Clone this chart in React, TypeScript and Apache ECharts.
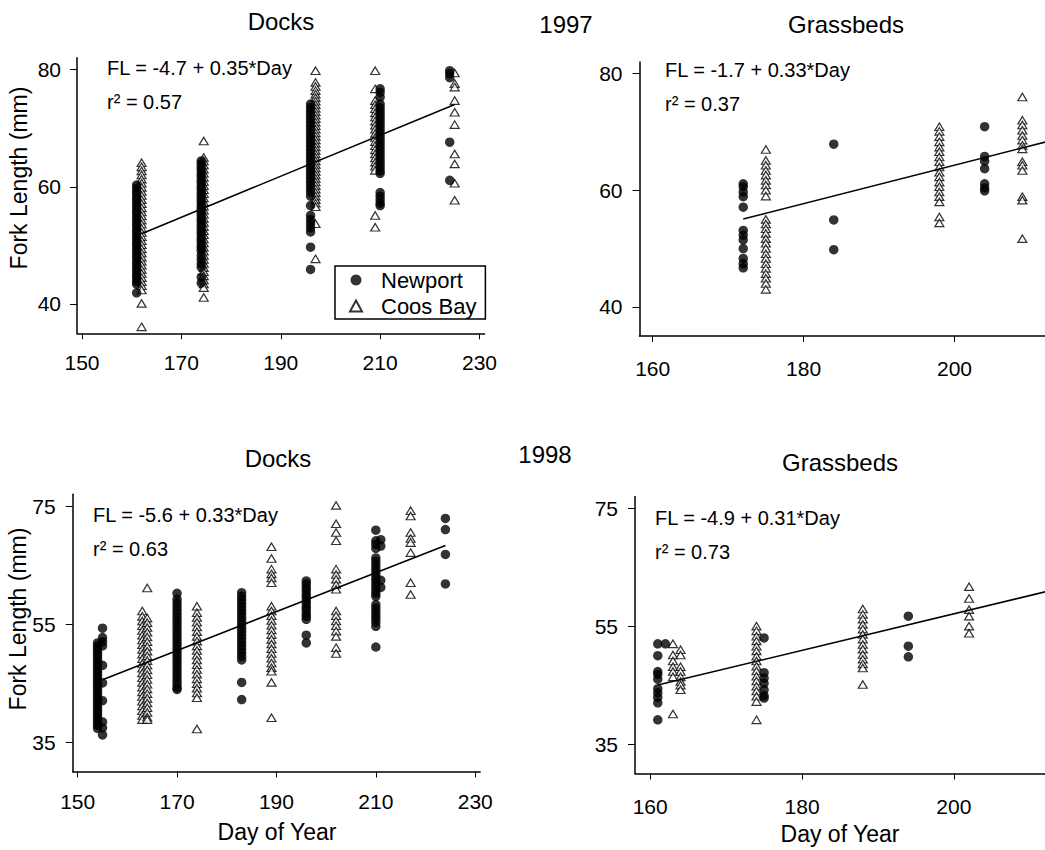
import React, { useEffect, useRef } from "react";
import * as echarts from "echarts";

// ---- Fork length (mm) by day of year, grouped as [day, lengths[]] ----

// 1997, Docks
const docks97Newport: [number, number[]][] = [
  [161, [60.3, 59.8, 59.2, 58.7, 58.1, 57.6, 57, 56.5, 55.9, 55.4, 54.8, 54.3, 53.7, 53.2, 52.6, 52.1, 51.5, 51, 50.4, 49.9, 49.3, 48.8, 48.2, 47.7, 47.1, 46.6, 46, 45.5, 44.9, 44.4, 43.8, 43.4, 41.9]],
  [174, [64.4, 63.9, 63.3, 62.8, 62.2, 61.7, 61.1, 60.6, 60, 59.5, 58.9, 58.4, 57.8, 57.3, 56.7, 56.2, 55.6, 55.1, 54.5, 54, 53.4, 52.9, 52.3, 51.8, 51.2, 50.7, 50.1, 49.6, 49.1, 48.3, 47.6, 46.9, 46.3, 44.6, 43.6]],
  [196, [74.1, 73.5, 72.9, 72.3, 71.7, 71.1, 70.5, 69.9, 69.3, 68.7, 68.1, 67.5, 66.9, 66.3, 65.7, 65.1, 64.5, 63.9, 63.3, 62.7, 62.1, 61.5, 60.9, 60.3, 59.7, 59.1, 58.4, 56.8, 55.1, 54.4, 53.7, 53, 52.3, 49.7, 45.9]],
  [210, [76.7, 76.1, 75.3, 74.1, 73.5, 72.9, 72.3, 71.7, 71.1, 70.5, 69.9, 69.3, 68.7, 68.1, 67.5, 66.9, 66.3, 65.7, 65.1, 64.5, 63.9, 63.3, 62.7, 62.3, 59, 58.4, 57.8, 57.2, 56.8]],
  [224, [79.8, 79.3, 78.6, 67.6, 61.1]],
];
const docks97CoosBay: [number, number[]][] = [
  [162, [64.1, 63.4, 62.7, 62, 61.3, 60.6, 59.9, 59.2, 58.5, 57.8, 57.1, 56.4, 55.7, 55, 54.3, 53.6, 52.9, 52.2, 51.5, 50.8, 50.1, 49.4, 48.7, 48, 47.3, 46.6, 45.9, 45.2, 44.5, 43.8, 43.1, 42.4, 40.1, 36.1]],
  [174.5, [67.8, 65, 64.4, 63.7, 63, 62.3, 61.6, 60.9, 60.2, 59.5, 58.8, 58.1, 57.4, 56.7, 56, 55.3, 54.6, 53.9, 53.2, 52.5, 51.8, 51.1, 50.4, 49.7, 49, 48.3, 47.6, 46.9, 46.2, 45.5, 44.8, 44.1, 43.4, 42.8, 41.1]],
  [197, [79.8, 77.8, 77.1, 76.4, 75.8, 75.2, 74.6, 74, 73.4, 72.8, 72.2, 71.6, 71, 70.4, 69.8, 69.2, 68.6, 68, 67.4, 66.8, 66.2, 65.6, 65, 64.4, 63.8, 63.2, 62.6, 62, 61.4, 60.8, 60.2, 59.6, 59, 58.4, 57.8, 57.2, 56.6, 53.7, 47.7]],
  [209, [79.8, 76.7, 74.7, 74, 73.3, 72.6, 71.9, 71.2, 70.5, 69.8, 69.1, 68.4, 67.7, 67, 66.3, 65.6, 64.9, 64.2, 63.5, 62.8, 55.1, 53.1]],
  [225, [79.4, 77.6, 77, 74.7, 72.7, 70.6, 65.6, 63.9, 60.6, 57.7]],
];

// 1997, Grassbeds
const grass97Newport: [number, number[]][] = [
  [172, [61.1, 60.6, 59.7, 58.9, 57.1, 53.1, 52.3, 51.5, 50, 48.3, 47.4, 46.7]],
  [184, [67.9, 54.9, 49.8]],
  [204, [70.9, 65.8, 65, 63.7, 61.1, 60.4, 59.9]],
];
const grass97CoosBay: [number, number[]][] = [
  [175, [67, 65.1, 64.3, 63.4, 62.6, 61.7, 60.9, 60, 59, 55, 54.2, 53.4, 52.6, 51.7, 50.9, 50, 49.1, 48.3, 47.4, 46.6, 45.7, 44.9, 44, 43]],
  [198, [70.9, 70.1, 69.2, 68.3, 67.4, 66.6, 65.7, 64.9, 64, 63.1, 62.3, 61.4, 60.6, 59.7, 58.9, 58, 55.4, 54.4]],
  [209, [76, 72, 71.2, 70.3, 69.4, 68.6, 67.7, 67.1, 64.9, 64.3, 63.4, 58.9, 58.3, 51.7]],
];

// 1998, Docks
const docks98Newport: [number, number[]][] = [
  [154, [51.8, 51.3, 50.8, 50.3, 49.8, 49.3, 48.8, 48.3, 47.8, 47.3, 46.8, 46.3, 45.8, 45.3, 44.8, 44.3, 43.8, 43.3, 42.8, 42.3, 41.8, 41.3, 40.8, 40.3, 39.8, 39.3, 38.8, 38.3, 37.8, 37.3]],
  [155, [54.3, 52.7, 52, 51.3, 48, 45, 42, 38.4, 37.4, 36.2]],
  [170, [60.2, 59.2, 58.6, 58, 57.4, 56.8, 56.2, 55.6, 55, 54.4, 53.8, 53.2, 52.6, 52, 51.4, 50.8, 50.2, 49.6, 49, 48.4, 47.8, 47.2, 46.6, 46, 45.4, 44.8, 44.2, 43.9]],
  [183, [60.3, 59.7, 59.1, 58.5, 57.9, 57.3, 56.7, 56.1, 55.5, 54.9, 54.3, 53.7, 53.1, 52.5, 51.9, 51.3, 50.7, 50.1, 49.5, 48.9, 45.1, 42.2]],
  [196, [62.3, 61.8, 61.2, 60.7, 60.1, 59.6, 59, 58.5, 57.9, 57.4, 56.8, 56.3, 55.8, 53.1, 51.8]],
  [210, [70.9, 69.1, 68.5, 67.8, 66.2, 65.6, 65, 64.4, 63.8, 63.2, 62.6, 62, 61.4, 60.8, 60.2, 59.7, 58.3, 57.7, 57.1, 56.5, 55.9, 55.3, 54.6, 51.1]],
  [211, [69.3, 68.2, 62.4, 61.2]],
  [224, [72.9, 71, 66.8, 61.8]],
];
const docks98CoosBay: [number, number[]][] = [
  [163, [57.2, 56.3, 55.5, 54.7, 53.9, 53.1, 52.3, 51.5, 50.7, 49.9, 49.1, 48.3, 47.5, 46.7, 45.9, 45.1, 44.3, 43.5, 42.7, 41.9, 41.1, 40.3, 39.5, 38.8]],
  [164, [61.1, 56, 55.2, 54.4, 53.6, 52.8, 52, 51.2, 50.4, 49.6, 48.8, 48, 47.2, 46.4, 45.6, 44.8, 44, 43.2, 42.4, 41.6, 40.8, 40, 39.2, 38.8]],
  [174, [58, 56.9, 56.1, 55.3, 54.5, 53.7, 52.9, 52.1, 51.3, 50.5, 49.7, 48.9, 48.1, 47.3, 46.5, 45.7, 44.9, 44.1, 43.3, 42.5, 37.2]],
  [189, [68.1, 66.1, 64.3, 63.5, 62.8, 62, 58, 57.2, 56.4, 55.6, 54.8, 54, 53.2, 52.4, 51.6, 50.8, 50, 49.2, 48.4, 47.6, 47, 45.1, 39.1]],
  [202, [75.1, 72, 70.5, 69.1, 64.3, 63.4, 62.6, 61.7, 60.9, 57.2, 56.4, 55.5, 54.7, 53.8, 52.9, 51, 50]],
  [217, [74.2, 73.3, 70.5, 69.5, 68.8, 67.1, 62, 60]],
];

// 1998, Grassbeds
const grass98Newport: [number, number[]][] = [
  [161, [52, 50, 47.3, 46.8, 46, 44.4, 43.7, 42.9, 42, 39.1]],
  [162, [52]],
  [175, [53, 47.1, 46.2, 45.3, 44.2, 43.2, 42.8]],
  [194, [56.7, 51.6, 49.8]],
];
const grass98CoosBay: [number, number[]][] = [
  [163, [52, 50.1, 49.1, 48.1, 47.3, 46.4, 40.1]],
  [164, [51, 50.1, 48.1, 47.3, 46.4, 45.6, 45, 44.2]],
  [174, [55, 54.2, 53.3, 52.5, 51.6, 50.8, 49.9, 49.1, 48.2, 47.4, 46.5, 45.7, 44.8, 44, 43.1, 42.2, 39.1]],
  [188, [57.9, 57, 56.2, 55.3, 54.5, 53.6, 52.8, 51.9, 51.1, 50.2, 49.4, 48.6, 47.9, 45.1]],
  [202, [61.7, 59.7, 57.8, 56.7, 55, 53.8]],
];

// Regression fits: FL = a + b*Day, with r² and the day span of the drawn line
const fitDocks97 = { a: -4.7, b: 0.35, r2: 0.57, from: 162, to: 225 };
const fitGrass97 = { a: -1.7, b: 0.33, r2: 0.37, from: 172, to: 214 };
const fitDocks98 = { a: -5.6, b: 0.33, r2: 0.63, from: 155, to: 224 };
const fitGrass98 = { a: -4.9, b: 0.31, r2: 0.73, from: 161, to: 214 };

// Axis ticks
const ticksXDocks = [150, 170, 190, 210, 230];
const ticksXGrass = [160, 180, 200];
const ticksY1997 = [40, 60, 80];
const ticksY1998 = [35, 55, 75];

const FONT = '"Liberation Sans", Arial, Helvetica, sans-serif';

type Panel = {
  newport: [number, number[]][];
  coos: [number, number[]][];
  fit: { a: number; b: number; r2: number; from: number; to: number };
  grid: { left: number; top: number; width: number; height: number };
  x: [number, number];
  y: [number, number];
  xTicks: number[];
  yTicks: number[];
  xLabelMargin: number;
  yLabelMargin: number;
  eq: [number, number];
};

const panels: Panel[] = [
  {
    newport: docks97Newport, coos: docks97CoosBay, fit: fitDocks97,
    grid: { left: 77, top: 57.8, width: 407.5, height: 275.5 },
    x: [149, 231], y: [35, 82], xTicks: ticksXDocks, yTicks: ticksY1997,
    xLabelMargin: 19, yLabelMargin: 16, eq: [107, 68],
  },
  {
    newport: grass97Newport, coos: grass97CoosBay, fit: fitGrass97,
    grid: { left: 639.5, top: 62, width: 423.3, height: 274 },
    x: [158.25, 212], y: [35, 82], xTicks: ticksXGrass, yTicks: ticksY1997,
    xLabelMargin: 22, yLabelMargin: 17, eq: [665, 70],
  },
  {
    newport: docks98Newport, coos: docks98CoosBay, fit: fitDocks98,
    grid: { left: 72.7, top: 494.2, width: 407.5, height: 277.3 },
    x: [149, 231], y: [30, 77], xTicks: ticksXDocks, yTicks: ticksY1998,
    xLabelMargin: 19, yLabelMargin: 17, eq: [93, 515],
  },
  {
    newport: grass98Newport, coos: grass98CoosBay, fit: fitGrass98,
    grid: { left: 635, top: 496.5, width: 425.25, height: 277 },
    x: [158, 212], y: [30, 77], xTicks: ticksXGrass, yTicks: ticksY1998,
    xLabelMargin: 22, yLabelMargin: 17, eq: [655, 518],
  },
];

const flatten = (groups: [number, number[]][]) =>
  groups.flatMap(([day, vals]) => vals.map((v) => [day, v]));

const fmtSigned = (v: number) => (v < 0 ? `-${Math.abs(v)}` : `${v}`);

function buildOption() {
  const grid: any[] = [];
  const xAxis: any[] = [];
  const yAxis: any[] = [];
  const series: any[] = [];
  const graphic: any[] = [];

  const text = (t: string, x: number, y: number, size: number, align = "left", rotation = 0) => ({
    type: "text",
    x,
    y,
    rotation,
    style: {
      text: t,
      fill: "#000",
      fontSize: size,
      fontFamily: FONT,
      align,
      verticalAlign: "middle",
      textAlign: align,
      textVerticalAlign: "middle",
    },
  });

  panels.forEach((p, i) => {
    grid.push({ ...p.grid, containLabel: false });
    xAxis.push({
      type: "value",
      gridIndex: i,
      min: p.x[0],
      max: p.x[1],
      splitLine: { show: false },
      axisLine: { show: true, onZero: false, lineStyle: { color: "#000", width: 1.5 } },
      axisTick: { show: true, inside: false, length: 6, customValues: p.xTicks, lineStyle: { color: "#000", width: 1 } },
      axisLabel: { customValues: p.xTicks, margin: p.xLabelMargin, color: "#000", fontSize: 21, fontFamily: FONT },
    });
    yAxis.push({
      type: "value",
      gridIndex: i,
      min: p.y[0],
      max: p.y[1],
      splitLine: { show: false },
      axisLine: { show: true, onZero: false, lineStyle: { color: "#000", width: 1.5 } },
      axisTick: { show: true, inside: false, length: 7, customValues: p.yTicks, lineStyle: { color: "#000", width: 1 } },
      axisLabel: { customValues: p.yTicks, margin: p.yLabelMargin, color: "#000", fontSize: 21, fontFamily: FONT },
    });
    series.push({
      name: "Coos Bay",
      type: "scatter",
      xAxisIndex: i,
      yAxisIndex: i,
      symbol: "triangle",
      symbolSize: [9, 7.5],
      itemStyle: { color: "#fff", borderColor: "#000", borderWidth: 1.2 },
      data: flatten(p.coos),
      z: 2,
    });
    series.push({
      name: "Newport",
      type: "scatter",
      xAxisIndex: i,
      yAxisIndex: i,
      symbol: "circle",
      symbolSize: 9.5,
      itemStyle: { color: "#000" },
      data: flatten(p.newport),
      z: 3,
    });
    series.push({
      name: "fit",
      type: "line",
      xAxisIndex: i,
      yAxisIndex: i,
      symbol: "none",
      silent: true,
      clip: true,
      lineStyle: { color: "#000", width: 1.6 },
      data: [
        [p.fit.from, p.fit.a + p.fit.b * p.fit.from],
        [p.fit.to, p.fit.a + p.fit.b * p.fit.to],
      ],
      z: 4,
    });
    graphic.push(text(`FL = ${fmtSigned(p.fit.a)} + ${p.fit.b}*Day`, p.eq[0], p.eq[1], 20));
    graphic.push(text(`r² = ${p.fit.r2}`, p.eq[0], p.eq[1] + 34, 20));
  });

  // Panel and year headings
  graphic.push(text("Docks", 281, 21, 24, "center"));
  graphic.push(text("1997", 566, 24, 24, "center"));
  graphic.push(text("Grassbeds", 846, 24, 24, "center"));
  graphic.push(text("Docks", 278, 458, 24, "center"));
  graphic.push(text("1998", 545, 454, 24, "center"));
  graphic.push(text("Grassbeds", 840, 462, 24, "center"));

  // Axis titles
  graphic.push(text("Fork Length (mm)", 19, 178, 23, "center", Math.PI / 2));
  graphic.push(text("Fork Length (mm)", 18, 619, 23, "center", Math.PI / 2));
  graphic.push(text("Day of Year", 277, 832, 23, "center"));
  graphic.push(text("Day of Year", 840, 834, 23, "center"));

  return {
    animation: false,
    backgroundColor: "#fff",
    grid,
    xAxis,
    yAxis,
    series,
    graphic,
    legend: {
      data: ["Newport", "Coos Bay"],
      orient: "vertical",
      left: 335,
      top: 266,
      padding: [2, 9, 1, 14],
      itemGap: 2,
      itemWidth: 12,
      itemHeight: 11,
      borderColor: "#000",
      borderWidth: 1.5,
      borderRadius: 0,
      selectedMode: false,
      textStyle: { fontSize: 22, lineHeight: 24, color: "#000", fontFamily: FONT, padding: [0, 0, 0, 14] },
    },
  };
}

export default function App() {
  const ref = useRef<HTMLDivElement>(null);
  useEffect(() => {
    if (!ref.current) return;
    const chart = echarts.init(ref.current, undefined, { renderer: "svg" });
    chart.setOption(buildOption() as any);
    return () => chart.dispose();
  }, []);
  return (
    <div
      ref={ref}
      style={{ position: "fixed", left: 0, top: 0, width: 1045, height: 850, background: "#fff" }}
    />
  );
}
